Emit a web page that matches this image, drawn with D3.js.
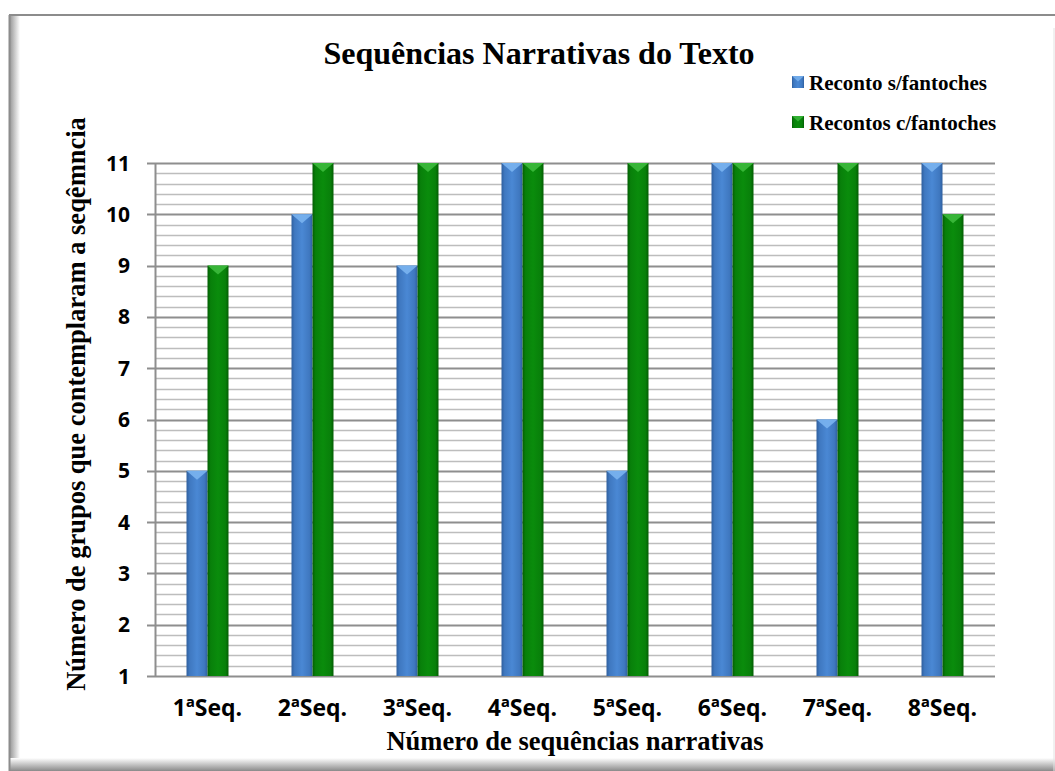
<!DOCTYPE html>
<html>
<head>
<meta charset="utf-8">
<script src="https://cdn.jsdelivr.net/npm/d3@7"></script>
<style>
  html, body { margin: 0; padding: 0; background: #fff; }
  svg { display: block; }
</style>
</head>
<body>
<div id="chart"></div>
<script>
// chart data
const categories = ["1ªSeq.", "2ªSeq.", "3ªSeq.", "4ªSeq.", "5ªSeq.", "6ªSeq.", "7ªSeq.", "8ªSeq."];
const semFantoches = [5, 10, 9, 11, 5, 11, 6, 11];
const comFantoches = [9, 11, 11, 11, 11, 11, 11, 10];
const seriesNames = ["Reconto s/fantoches", "Recontos c/fantoches"];
const yTicks = [1, 2, 3, 4, 5, 6, 7, 8, 9, 10, 11];

const W = 1055, H = 771;
const margin = { top: 163, right: 60, bottom: 95, left: 155 };
const width = W - margin.left - margin.right;
const height = H - margin.top - margin.bottom;

const serif = "'Liberation Serif', 'Times New Roman', serif";
const sans = "'Open Sans', 'Noto Sans', sans-serif";

const svg = d3.select("#chart").append("svg")
    .attr("width", W)
    .attr("height", H);

const defs = svg.append("defs");

// bar gradients (horizontal, for the bevelled look)
function barGradient(id, stops) {
    const g = defs.append("linearGradient").attr("id", id)
        .attr("x1", "0%").attr("x2", "100%").attr("y1", "0%").attr("y2", "0%");
    stops.forEach(s => g.append("stop").attr("offset", s[0]).attr("stop-color", s[1]));
}
barGradient("gBlue", [["0%", "#2f5f9e"], ["15%", "#3f78c0"], ["50%", "#4a88d4"], ["85%", "#3f78c0"], ["100%", "#2f5f9e"]]);
barGradient("gGreen", [["0%", "#045e04"], ["15%", "#08800a"], ["50%", "#0a8c0c"], ["85%", "#08800a"], ["100%", "#045e04"]]);

// frame shading
const gl = defs.append("linearGradient").attr("id", "gLeft").attr("x1", "0%").attr("x2", "100%");
gl.append("stop").attr("offset", "0%").attr("stop-color", "#9a9a9a");
gl.append("stop").attr("offset", "100%").attr("stop-color", "#ffffff");
const gb = defs.append("linearGradient").attr("id", "gBottom").attr("x1", "0%").attr("x2", "0%").attr("y1", "0%").attr("y2", "100%");
gb.append("stop").attr("offset", "0%").attr("stop-color", "#ffffff");
gb.append("stop").attr("offset", "100%").attr("stop-color", "#8a8a8a");

// outer frame
svg.append("rect").attr("x", 9).attr("y", 15).attr("width", W - 9).attr("height", H - 15)
    .attr("fill", "#fff");
svg.append("rect").attr("x", 10).attr("y", 15).attr("width", 10).attr("height", H - 15)
    .attr("fill", "url(#gLeft)");
svg.append("rect").attr("x", 10).attr("y", 758).attr("width", W - 10).attr("height", 13)
    .attr("fill", "url(#gBottom)");
svg.append("line").attr("x1", 9).attr("x2", W).attr("y1", 15).attr("y2", 15)
    .attr("stroke", "#8c8c8c").attr("stroke-width", 2);
svg.append("line").attr("x1", 9.5).attr("x2", 9.5).attr("y1", 15).attr("y2", H)
    .attr("stroke", "#8c8c8c").attr("stroke-width", 2);
svg.append("line").attr("x1", W - 1).attr("x2", W - 1).attr("y1", 28).attr("y2", H)
    .attr("stroke", "#e2e2e2").attr("stroke-width", 1);

const g = svg.append("g").attr("transform", `translate(${margin.left},${margin.top})`);

const x = d3.scaleBand().domain(categories).range([0, width]);
const y = d3.scaleLinear().domain([1, 11]).range([height, 0]);

// minor gridlines (every 0.2)
const minor = d3.range(1.2, 11, 0.2).filter(v => Math.abs(v - Math.round(v)) > 0.01);
g.append("g").selectAll("line").data(minor).join("line")
    .attr("x1", 0).attr("x2", width)
    .attr("y1", d => Math.round(y(d)) + 0.5).attr("y2", d => Math.round(y(d)) + 0.5)
    .attr("stroke", "#bdbdbd").attr("stroke-width", 1.6);

// major gridlines
g.append("g").selectAll("line").data(yTicks).join("line")
    .attr("x1", -8).attr("x2", width)
    .attr("y1", d => Math.round(y(d)) + 0.5).attr("y2", d => Math.round(y(d)) + 0.5)
    .attr("stroke", "#8e8e8e").attr("stroke-width", 2);

// y axis line
g.append("line").attr("x1", 0.5).attr("x2", 0.5).attr("y1", 0).attr("y2", height)
    .attr("stroke", "#8e8e8e").attr("stroke-width", 2);

// y tick labels
g.append("g").selectAll("text").data(yTicks).join("text")
    .attr("x", -25).attr("y", d => y(d)).attr("dy", "0.36em")
    .attr("text-anchor", "end")
    .style("font-family", sans)
    .style("font-weight", "bold").style("font-size", "21px")
    .text(d => d);

// bars
const barW = 21;
const series = [
    { name: seriesNames[0], values: semFantoches, fill: "url(#gBlue)", tip: "#7ab4f0", off: -barW },
    { name: seriesNames[1], values: comFantoches, fill: "url(#gGreen)", tip: "#3dba3d", off: 0 }
];

series.forEach(s => {
    const bg = g.append("g");
    categories.forEach((c, i) => {
        const cx = x(c) + x.bandwidth() / 2 + s.off;
        const top = y(s.values[i]);
        bg.append("rect")
            .attr("x", cx).attr("y", top)
            .attr("width", barW).attr("height", height - top)
            .attr("fill", s.fill);
        // bevel highlight on top
        bg.append("path")
            .attr("d", `M${cx},${top} L${cx + barW},${top} L${cx + barW / 2},${top + 9} Z`)
            .attr("fill", s.tip).attr("opacity", 0.9);
    });
});

// x labels
g.append("g").selectAll("text").data(categories).join("text")
    .attr("x", d => x(d) + x.bandwidth() / 2)
    .attr("y", height + 40)
    .attr("text-anchor", "middle")
    .style("font-family", sans)
    .style("font-weight", "bold").style("font-size", "23px")
    .text(d => d);

// title
svg.append("text")
    .attr("x", 539).attr("y", 64)
    .attr("text-anchor", "middle")
    .style("font-family", serif)
    .style("font-weight", "bold").style("font-size", "32px")
    .text("Sequências Narrativas do Texto");

// axis titles
svg.append("text")
    .attr("x", 575).attr("y", 750)
    .attr("text-anchor", "middle")
    .style("font-family", serif)
    .style("font-weight", "bold").style("font-size", "26.5px")
    .text("Número de sequências narrativas");

svg.append("text")
    .attr("transform", "translate(85,404) rotate(-90)")
    .attr("text-anchor", "middle")
    .style("font-family", serif)
    .style("font-weight", "bold").style("font-size", "26.5px")
    .text("Número de grupos que contemplaram a seqêmncia");

// legend
const legend = svg.append("g").attr("transform", "translate(792,76)");
series.forEach((s, i) => {
    const lg = legend.append("g").attr("transform", `translate(0,${i * 40})`);
    lg.append("rect").attr("width", 12).attr("height", 12).attr("fill", s.fill);
    lg.append("path").attr("d", "M0,0 L12,0 L6,5.5 Z").attr("fill", s.tip).attr("opacity", 0.8);
    lg.append("text").attr("x", 17).attr("y", 14)
        .style("font-family", serif)
        .style("font-weight", "bold").style("font-size", "21px")
        .text(s.name);
});
</script>
</body>
</html>
